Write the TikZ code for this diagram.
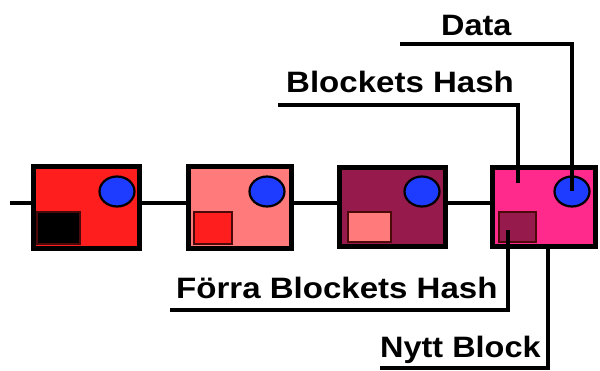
\documentclass[tikz,border=0pt]{standalone}
\usepackage{fontspec}
\setmainfont{Liberation Sans}
\usetikzlibrary{shapes.geometric}
\definecolor{cRed}{HTML}{FF1E1E}
\definecolor{cSalmon}{HTML}{FF7B7B}
\definecolor{cMaroon}{HTML}{961A4C}
\definecolor{cPink}{HTML}{FF2A8C}
\definecolor{cBlue}{HTML}{1E3CFF}
\begin{document}
\begin{tikzpicture}[x=1pt,y=-1pt,
  blockbox/.style={draw=black,line width=5pt,rectangle,inner sep=0pt,outer sep=0pt},
  databall/.style={draw=black,line width=2.2pt,ellipse,fill=cBlue,minimum width=35pt,minimum height=30pt,inner sep=0pt},
  hashbox/.style={draw=black!70!cRed,line width=1.3pt,rectangle,inner sep=0pt},
  wire/.style={line width=4pt},
  callout/.style={line width=4pt,line join=miter},
  lbl/.style={font=\bfseries\fontsize{29.5}{30}\selectfont,inner sep=0pt,anchor=base west}
]
\path[use as bounding box] (0,0) rectangle (600,371);
\coordinate (ly) at (0,203);
% blocks
\node[blockbox,fill=cRed,minimum width=106pt,minimum height=82pt] (b1) at (86.5,207.5) {};
\node[blockbox,fill=cSalmon,minimum width=103pt,minimum height=82pt] (b2) at (240,207.5) {};
\node[blockbox,fill=cMaroon,minimum width=106pt,minimum height=79pt] (b3) at (392.5,207) {};
\node[blockbox,fill=cPink,minimum width=103pt,minimum height=79pt] (b4) at (544,207) {};
% data ellipses
\node[databall] (e1) at (117,191.5) {};
\node[databall] (e2) at (267,191.5) {};
\node[databall] (e3) at (422,191.5) {};
\node[databall] (e4) at (572,191.5) {};
% previous-hash squares
\node[hashbox,fill=black,minimum width=43pt,minimum height=32pt] (h1) at (58.5,228) {};
\node[hashbox,fill=cRed,minimum width=38pt,minimum height=32pt] (h2) at (213,228) {};
\node[hashbox,fill=cSalmon,minimum width=43pt,minimum height=30pt] (h3) at (369.5,227) {};
\node[hashbox,fill=cMaroon,minimum width=37pt,minimum height=30pt] (h4) at (517.5,227) {};
% chain
\coordinate (start) at (10,203);
\draw[wire] (start) -- (b1.west |- ly);
\draw[wire] (b1.east |- ly) -- (b2.west |- ly);
\draw[wire] (b2.east |- ly) -- (b3.west |- ly);
\draw[wire] (b3.east |- ly) -- (b4.west |- ly);
% labels
\node[lbl] (tData) at (441,36) {\scalebox{1.1}[1]{Data}};
\node[lbl] (tHash) at (286,93) {\scalebox{1.12}[1]{Blockets Hash}};
\node[lbl] (tPrev) at (176,299) {\scalebox{1.12}[1]{Förra Blockets Hash}};
\node[lbl] (tNew) at (380,358) {\scalebox{1.1}[1]{Nytt Block}};
% callout ends
\coordinate (dataL) at (400,44);
\coordinate (hashL) at (278,105);
\coordinate (hashP) at (518,183);
\coordinate (prevL) at (170,310);
\coordinate (prevP) at (508,230);
\coordinate (newL) at (380,368);
\coordinate (newP) at (548,249);
\draw[callout] (dataL) -| (e4.center);
\draw[callout] (hashL) -| (hashP);
\draw[callout] (prevL) -| (prevP);
\draw[callout] (newL) -| (newP);
\end{tikzpicture}
\end{document}
